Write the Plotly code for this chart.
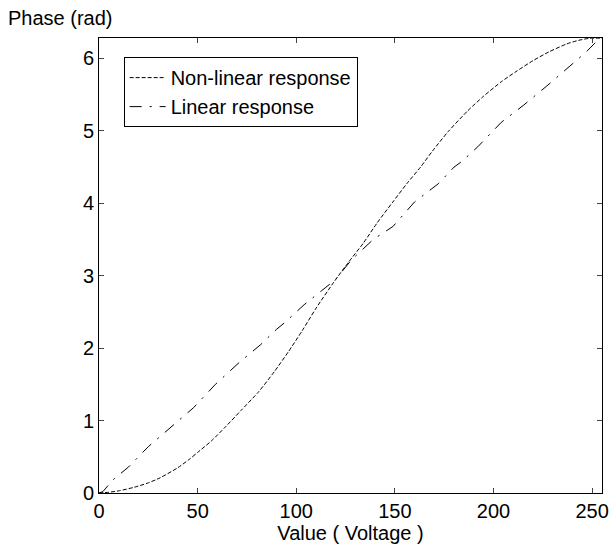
import plotly.graph_objects as go

# Non-linear response
nl_x = [0, 5, 10, 18, 25, 31, 40, 46, 50, 57, 64, 72, 81, 89, 96, 103, 110, 119, 126, 134, 141, 149, 156, 163, 169, 177, 187, 195, 204, 212, 220, 228, 237, 243, 249, 255]
nl_y = [0.0, 0.01, 0.03, 0.08, 0.14, 0.21, 0.35, 0.47, 0.56, 0.72, 0.91, 1.14, 1.40, 1.68, 1.95, 2.24, 2.55, 2.91, 3.17, 3.45, 3.73, 4.02, 4.27, 4.50, 4.72, 4.99, 5.28, 5.48, 5.68, 5.83, 5.97, 6.09, 6.20, 6.25, 6.28, 6.28]

# Linear response
lin_x = [0, 2, 7, 15, 25, 38, 48, 59, 71, 82, 90, 94, 104, 115, 120, 128, 134, 139, 149, 160, 172, 180, 184, 192, 204, 215, 227, 239, 247, 252, 255]
lin_y = [0.0, 0.02, 0.18, 0.36, 0.64, 0.94, 1.18, 1.50, 1.80, 2.05, 2.26, 2.35, 2.60, 2.84, 2.95, 3.22, 3.38, 3.50, 3.68, 4.02, 4.27, 4.50, 4.58, 4.78, 5.12, 5.35, 5.62, 5.90, 6.09, 6.23, 6.28]

x_ticks = [0, 50, 100, 150, 200, 250]
y_ticks = [0, 1, 2, 3, 4, 5, 6]

fig = go.Figure()
fig.add_trace(go.Scatter(x=nl_x, y=nl_y, mode="lines", name="Non-linear response",
                         line=dict(color="black", width=1, dash="4px,2px", shape="spline", smoothing=0.6)))
fig.add_trace(go.Scatter(x=lin_x, y=lin_y, mode="lines", name="Linear response",
                         line=dict(color="black", width=1, dash="12px,8px,2px,8px")))

font = "Liberation Sans, Arial, sans-serif"
fig.update_layout(
    width=616, height=552,
    margin=dict(l=99, r=7, t=38, b=59),
    paper_bgcolor="white", plot_bgcolor="white",
    font=dict(family=font, size=20, color="black"),
    showlegend=True,
    legend=dict(x=0.049, y=0.958, xanchor="left", yanchor="top",
                bgcolor="white", bordercolor="black", borderwidth=1,
                font=dict(size=20), tracegroupgap=0, itemwidth=36),
    xaxis=dict(range=[0, 255], tickvals=x_ticks, ticks="inside", ticklen=5,
               showline=True, linecolor="black", linewidth=1, mirror="allticks",
               showgrid=False, zeroline=False,
               title=dict(text="Value ( Voltage )", font=dict(size=20), standoff=4)),
    yaxis=dict(range=[0, 6.283], tickvals=y_ticks, ticks="inside", ticklen=5,
               showline=True, linecolor="black", linewidth=1, mirror="allticks",
               showgrid=False, zeroline=False),
)
fig.add_annotation(text="Phase (rad)", xref="paper", yref="paper", x=-0.185, y=1.0,
                   xanchor="left", yanchor="middle", yshift=20, showarrow=False,
                   font=dict(size=20))
fig.write_html("out.html")
